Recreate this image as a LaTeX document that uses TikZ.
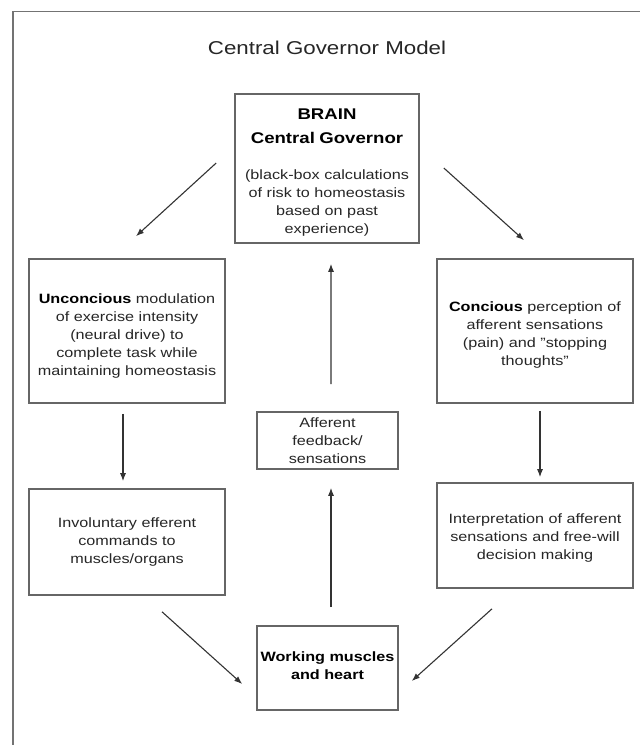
\documentclass[tikz,border=0pt]{standalone}
\usepackage{fontspec}
\setmainfont{Liberation Sans}[FakeStretch=1.2]
\usetikzlibrary{arrows.meta,calc}
\newcommand{\bodyfont}{\fontsize{13.5bp}{18bp}\selectfont}
\newcommand{\headfont}{\fontsize{15.5bp}{24bp}\selectfont\bfseries}
\newcommand{\topstrut}[1]{\rule{0pt}{#1}}
\newcommand{\botstrut}[1]{\rule[-#1]{0pt}{#1}}
\newcommand{\dq}{{\char34}}
\begin{document}
\begin{tikzpicture}[x=1bp,y=-1bp,
  box/.style={draw=black!60, line width=1.6bp, inner sep=0pt, text=black!85, font=\bodyfont},
  arr/.style={draw=black!80, line width=1.1bp, -{Latex[length=8bp,width=6bp]}},
  frameline/.style={draw=black!55, line width=1.6bp}
]
\useasboundingbox (0,0) rectangle (640,745);
\fill[white] (0,0) rectangle (640,745);
\draw[frameline] (12.7,745) -- (12.7,11.7) -- (640,11.7);

\node[anchor=base, font=\fontsize{18.6bp}{22bp}\selectfont, text=black!85] (title) at (327,55) {Central Governor Model};

\node[box, minimum width=184bp, minimum height=149bp, text width=184bp] (brain) at (327,168.5)
  {\centering{\headfont\color{black}\topstrut{19bp}BRAIN\\Central Governor\par}\vspace{18bp}(black-box calculations\\of risk to homeostasis\\based on past\\experience)\par};

\node[box, minimum width=196bp, minimum height=144bp, text width=196bp] (uncon) at (127,331)
  {\centering\topstrut{19bp}\textbf{\color{black}Unconcious} modulation\\of exercise intensity\\(neural drive) to\\complete task while\\maintaining homeostasis\par};

\node[box, minimum width=196bp, minimum height=144bp, text width=196bp] (conc) at (535,331)
  {\centering\topstrut{17bp}\textbf{\color{black}Concious} perception of\\afferent sensations\\(pain) and \dq stopping\\thoughts\dq\par};

\node[box, minimum width=141bp, minimum height=57bp, text width=141bp] (aff) at (327.5,440.5)
  {\centering Afferent\\feedback/\\sensations\par};

\node[box, minimum width=196bp, minimum height=106bp, text width=196bp] (invol) at (127,542)
  {\centering Involuntary efferent\\commands to\\muscles/organs\par};

\node[box, minimum width=196bp, minimum height=105bp, text width=196bp] (interp) at (535,535.5)
  {\centering\topstrut{15bp}Interpretation of afferent\\sensations and free-will\\decision making\par};

\node[box, minimum width=141bp, minimum height=84bp, text width=141bp] (work) at (327.5,668)
  {\centering\bfseries\color{black} Working muscles\\and heart\botstrut{4bp}\par};

\coordinate (a1s) at ($(brain.west)+(-18,-5.5)$);
\coordinate (a1e) at ($(uncon.north)+(9,-22)$);
\coordinate (a2s) at ($(brain.east)+(24,-0.5)$);
\coordinate (a2e) at ($(conc.north)+(-11,-18)$);
\coordinate (a3s) at ($(uncon.south)+(-4,10)$);
\coordinate (a3e) at ($(invol.north)+(-4,-7)$);
\coordinate (a4s) at ($(conc.south)+(5,7)$);
\coordinate (a4e) at ($(interp.north)+(5,-5)$);
\coordinate (a5s) at ($(invol.south)+(35,16)$);
\coordinate (a5e) at ($(work.west)+(-14,16)$);
\coordinate (a6s) at ($(interp.south)+(-43,20)$);
\coordinate (a6e) at ($(work.east)+(13,13)$);
\coordinate (a7s) at ($(work.north)+(3.5,-18)$);
\coordinate (a7e) at ($(aff.south)+(3.5,18)$);
\coordinate (a8s) at ($(aff.north)+(3.5,-27)$);
\coordinate (a8e) at ($(brain.south)+(4,20)$);

\draw[arr] (a1s) -- (a1e);
\draw[arr] (a2s) -- (a2e);
\draw[arr] (a3s) -- (a3e);
\draw[arr] (a4s) -- (a4e);
\draw[arr] (a5s) -- (a5e);
\draw[arr] (a6s) -- (a6e);
\draw[arr] (a7s) -- (a7e);
\draw[arr] (a8s) -- (a8e);
\end{tikzpicture}
\end{document}
